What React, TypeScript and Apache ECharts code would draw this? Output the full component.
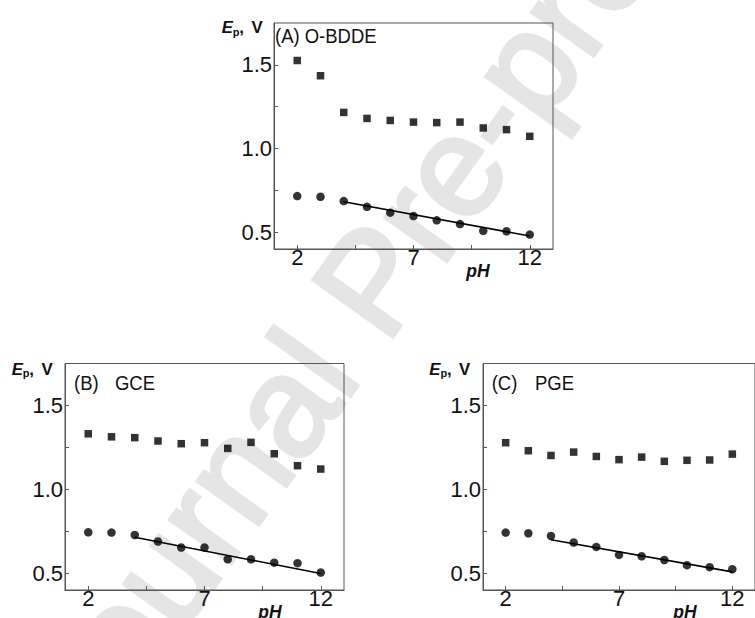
import React, { useEffect, useRef } from "react";
import * as echarts from "echarts";

// ---- data ----
const pHValues = [2, 3, 4, 5, 6, 7, 8, 9, 10, 11, 12];

// (A) O-BDDE
const squaresA = [1.526, 1.435, 1.216, 1.18, 1.168, 1.158, 1.155, 1.158, 1.123, 1.113, 1.073];
const circlesA = [0.716, 0.712, 0.686, 0.652, 0.617, 0.597, 0.571, 0.549, 0.508, 0.506, 0.486];
const fitA = [[4, 0.682], [12, 0.478]];

// (B) GCE
const squaresB = [1.331, 1.313, 1.308, 1.288, 1.272, 1.278, 1.244, 1.28, 1.212, 1.141, 1.121];
const circlesB = [0.744, 0.742, 0.728, 0.689, 0.653, 0.653, 0.583, 0.583, 0.563, 0.56, 0.504];
const fitB = [[4, 0.714], [12, 0.498]];

// (C) PGE
const squaresC = [1.278, 1.23, 1.202, 1.222, 1.196, 1.177, 1.192, 1.167, 1.173, 1.175, 1.21];
const circlesC = [0.742, 0.738, 0.722, 0.683, 0.657, 0.609, 0.601, 0.579, 0.548, 0.536, 0.524];
const fitC = [[4, 0.7], [12, 0.508]];

const xTickValues = [2, 4.5, 7, 9.5, 12];
const xLabelValues = [2, 7, 12];
const yTickValues = [0.5, 0.75, 1.0, 1.25, 1.5];
const yLabelValues = [0.5, 1.0, 1.5];

const panelTags = ["(A)", "(B)", "(C)"];
const panelNames = ["O-BDDE", "GCE", "PGE"];
const watermarkText = "Journal Pre-proof";

const FONT = "'Liberation Sans', Arial, Helvetica, sans-serif";
const FRAME = "#555";

export default function App() {
  const ref = useRef<HTMLDivElement>(null);

  useEffect(() => {
    if (!ref.current) return;
    const chart = echarts.init(ref.current, undefined, { renderer: "svg" });

    const grids = [
      { left: 274, top: 23, width: 279, height: 226 },
      { left: 65, top: 363.5, width: 279, height: 226.5 },
      { left: 483, top: 363.5, width: 279, height: 226.5 },
    ];
    const squares = [squaresA, squaresB, squaresC];
    const circles = [circlesA, circlesB, circlesC];
    const fits = [fitA, fitB, fitC];

    const xAxis = grids.map((_, i) => ({
      gridIndex: i,
      type: "value",
      min: 1,
      max: 13,
      axisLine: { show: true, lineStyle: { color: FRAME, width: 1 } },
      axisTick: { show: true, inside: true, length: 4, customValues: xTickValues, lineStyle: { color: FRAME } },
      axisLabel: { customValues: xLabelValues, fontSize: 22, color: "#111", margin: -3, fontFamily: FONT },
      splitLine: { show: false },
    }));
    const yAxis = grids.map((_, i) => ({
      gridIndex: i,
      type: "value",
      min: 0.4,
      max: 1.75,
      axisLine: { show: true, lineStyle: { color: FRAME, width: 1 } },
      axisTick: { show: true, inside: true, length: 4, customValues: yTickValues, lineStyle: { color: FRAME } },
      axisLabel: {
        customValues: yLabelValues,
        fontSize: 22,
        color: "#111",
        margin: 2,
        fontFamily: FONT,
        formatter: (v: number) => v.toFixed(1),
      },
      splitLine: { show: false },
    }));

    const series: any[] = [];
    grids.forEach((_, i) => {
      series.push({
        type: "scatter",
        xAxisIndex: i,
        yAxisIndex: i,
        symbol: "rect",
        symbolSize: 7.5,
        itemStyle: { color: "#000" },
        data: pHValues.map((x, k) => [x, squares[i][k]]),
      });
      series.push({
        type: "scatter",
        xAxisIndex: i,
        yAxisIndex: i,
        symbol: "circle",
        symbolSize: 8.5,
        itemStyle: { color: "#000" },
        data: pHValues.map((x, k) => [x, circles[i][k]]),
      });
      series.push({
        type: "line",
        xAxisIndex: i,
        yAxisIndex: i,
        showSymbol: false,
        symbol: "none",
        lineStyle: { color: "#000", width: 1.6 },
        data: fits[i],
      });
    });

    const graphic: any[] = [];
    // watermark
    graphic.push({
      type: "text",
      x: 371,
      y: 282,
      rotation: (54.5 * Math.PI) / 180,
      z: -10,
      silent: true,
      style: {
        text: watermarkText,
        fontSize: 142,
        fontFamily: FONT,
        fill: "#e5e5e5",
        stroke: "#e5e5e5",
        lineWidth: 4,
        align: "center",
        verticalAlign: "middle",
      },
    });

    // panel tags and names
    const tagPos = [
      { tx: 275, nx: null, y: 35.8 },
      { tx: 74, nx: 115, y: 382.5 },
      { tx: 491.7, nx: 535, y: 382.5 },
    ];
    tagPos.forEach((p, i) => {
      const common = { fontSize: 21, fontFamily: FONT, fill: "#111", align: "left", verticalAlign: "middle" };
      if (p.nx === null) {
        graphic.push({ type: "text", x: p.tx, y: p.y, scaleX: 0.88, z: 50, style: { ...common, text: panelTags[i] + " " + panelNames[i] } });
      } else {
        graphic.push({ type: "text", x: p.tx, y: p.y, scaleX: 0.88, z: 50, style: { ...common, text: panelTags[i] } });
        graphic.push({ type: "text", x: p.nx, y: p.y, scaleX: 0.88, z: 50, style: { ...common, text: panelNames[i] } });
      }
    });

    // E_p, V labels
    const epPos = [
      { x: 221.7, y: 27.5 },
      { x: 11.7, y: 368.7 },
      { x: 429.3, y: 368.7 },
    ];
    epPos.forEach((p) => {
      const base = { fontFamily: FONT, fill: "#111", fontWeight: "bold", align: "left", verticalAlign: "middle" };
      graphic.push({
        type: "group",
        x: p.x,
        y: p.y,
        scaleX: 1.05,
        z: 50,
        children: [
          { type: "text", x: 0, y: 0, style: { ...base, text: "E", fontSize: 16, fontStyle: "italic" } },
          { type: "text", x: 10.6, y: 4.6, style: { ...base, text: "p", fontSize: 10.5 } },
          { type: "text", x: 16.8, y: 0, style: { ...base, text: ",", fontSize: 16 } },
          { type: "text", x: 28.4, y: 0, style: { ...base, text: "V", fontSize: 16 } },
        ],
      });
    });

    // pH labels
    const phPos = [
      { x: 478, y: 270.8 },
      { x: 270, y: 611.8 },
      { x: 685, y: 611.8 },
    ];
    phPos.forEach((p) => {
      graphic.push({
        type: "text",
        x: p.x,
        y: p.y,
        z: 50,
        style: {
          text: "pH",
          fontSize: 17.5,
          fontWeight: "bold",
          fontStyle: "italic",
          fontFamily: FONT,
          fill: "#111",
          align: "center",
          verticalAlign: "middle",
        },
      });
    });

    chart.setOption({
      animation: false,
      backgroundColor: "#fff",
      grid: grids.map((g) => ({ ...g, show: true, borderColor: FRAME, borderWidth: 1, backgroundColor: "transparent" })),
      xAxis,
      yAxis,
      series,
      graphic,
    });

    return () => chart.dispose();
  }, []);

  return <div ref={ref} style={{ position: "absolute", left: 0, top: 0, width: 755, height: 618 }} />;
}
